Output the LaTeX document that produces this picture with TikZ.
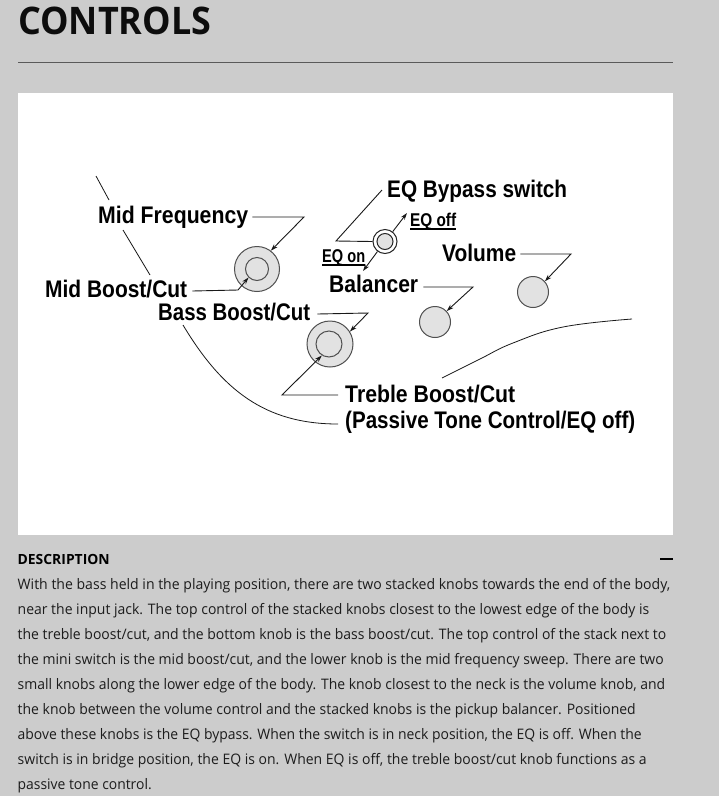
\documentclass[tikz,border=0pt]{standalone}
\usepackage{fontspec}
\setmainfont{Open Sans}
\newfontfamily\labfont{Liberation Sans}
\usetikzlibrary{arrows.meta}
\definecolor{pagebg}{HTML}{CCCCCC}
\definecolor{knobfill}{HTML}{E2E2E2}
\definecolor{knobline}{HTML}{505050}
\definecolor{bodytext}{HTML}{1C1C1C}
\definecolor{rulegray}{HTML}{5A5A5A}
\newcommand\fitw[2]{\resizebox{#1pt}{\height}{#2}}
\tikzset{
  lab/.style={inner sep=0pt, anchor=base west, font=\labfont\bfseries\fontsize{24}{24}\selectfont},
  sublab/.style={inner sep=0pt, anchor=base west, font=\labfont\bfseries\fontsize{18.5}{18.5}\selectfont},
  lead/.style={draw=black!90, line width=0.9pt},
  leadarrow/.style={lead, -{Stealth[length=7pt,width=4.5pt]}},
  knobring/.style={circle, draw=knobline, fill=knobfill, line width=1pt, inner sep=0pt},
  switchring/.style={circle, draw=black!85, fill=white, line width=1pt, inner sep=0pt, minimum size=24pt},
  switchcap/.style={circle, draw=black!85, fill=knobfill, line width=1pt, inner sep=0pt, minimum size=16pt},
  bodyline/.style={inner sep=0pt, anchor=base west, text=bodytext, font=\fontsize{14.5}{14.5}\selectfont},
  headline/.style={inner sep=0pt, anchor=base west, text=black, font=\bfseries\fontsize{14}{14}\selectfont},
}
\begin{document}
\begin{tikzpicture}[x=1pt,y=-1pt]
\useasboundingbox (0,0) rectangle (719,796);
\fill[pagebg] (0,0) rectangle (719,796);

% title and rule
\node[inner sep=0pt, anchor=base west, text=black!95, font=\bfseries\fontsize{38}{38}\selectfont] (title) at (18,34) {\fitw{193}{CONTROLS}};
\draw[rulegray, line width=1pt] (18,62) -- (673,62);

% white panel
\fill[white] (18,93) rectangle (673,535);

% body outline curves
\draw[lead, line width=0.8pt] (96,176) -- (109,200);
\draw[lead, line width=0.8pt] (123,230) -- (150,275);
\draw[lead, line width=0.8pt] (183,325) .. controls (222,390) and (265,424) .. (338,424);
\draw[lead, line width=0.8pt] plot[smooth, tension=0.7] coordinates {(442,378) (480,359) (513,343) (563,327) (632,319)};

% knobs
\node[knobring, minimum size=45pt] (midout) at (257,269) {};
\node[knobring, minimum size=23pt] (midin) at (257,269) {};
\node[knobring, minimum size=46pt] (bassout) at (330,344) {};
\node[knobring, minimum size=26pt] (bassin) at (329,344) {};
\node[knobring, minimum size=31pt] (bal) at (435,322) {};
\node[knobring, minimum size=31pt] (vol) at (533,292) {};
\node[switchring] (sw) at (385,241.5) {};
\node[switchcap] (swcap) at (385,241.5) {};

% labels
\node[lab] (mf) at (98,223) {\fitw{150}{Mid Frequency}};
\node[lab] (mb) at (45,297) {\fitw{142}{Mid Boost/Cut}};
\node[lab] (bb) at (158,320) {\fitw{152}{Bass Boost/Cut}};
\node[lab] (eqb) at (387,197) {\fitw{180}{EQ Bypass switch}};
\node[sublab] (eqoff) at (410,226) {\fitw{46}{EQ off}};
\node[sublab] (eqon) at (322,262) {\fitw{43}{EQ on}};
\node[lab] (balt) at (329,292) {\fitw{89}{Balancer}};
\node[lab] (volt) at (442,261) {\fitw{74}{Volume}};
\node[lab] (tr) at (345,402) {\fitw{170}{Treble Boost/Cut}};
\node[lab] (pt) at (345,428) {\fitw{290}{(Passive Tone Control/EQ off)}};

% underlines
\draw[line width=1.3pt] ([yshift=-3pt]eqoff.base west) -- ([yshift=-3pt]eqoff.base east);
\draw[line width=1.3pt] ([yshift=-3pt]eqon.base west) -- ([yshift=-3pt]eqon.base east);

% leader corners
\coordinate (mfc) at (304,217);
\coordinate (mbc) at (238,290);
\coordinate (bbc) at (368,313);
\coordinate (trc) at (282,395);
\coordinate (eqbc) at (336,241);
\coordinate (balc) at (473,287);
\coordinate (volc) at (571,254);
\coordinate (offtip) at (407,213);
\coordinate (ontip) at (363,271);

% leaders
\draw[leadarrow] ([xshift=4pt,yshift=6pt]mf.base east) -- (mfc) -- (midout.53);
\draw[leadarrow] ([xshift=5pt,yshift=6pt]mb.base east) -- (mbc) -- (midin.225);
\draw[leadarrow] ([xshift=7pt,yshift=6pt]bb.base east) -- (bbc) -- (bassout.32);
\draw[leadarrow] ([xshift=-7pt,yshift=7pt]tr.base west) -- (trc) -- (bassin.238);
\draw[lead] ([xshift=-5pt,yshift=7pt]eqb.base west) -- (eqbc) -- (sw.west);
\draw[leadarrow] (sw.52) -- (offtip);
\draw[leadarrow] (sw.233) -- (ontip);
\draw[leadarrow] ([xshift=5pt,yshift=5pt]balt.base east) -- (balc) -- (bal.43);
\draw[leadarrow] ([xshift=4pt,yshift=7pt]volt.base east) -- (volc) -- (vol.42);

% description
\node[headline] (deschead) at (17.5,564) {\fitw{92}{DESCRIPTION}};
\coordinate (minusl) at (660,559);
\coordinate (minusr) at (673,559);
\draw[line width=2pt, black] (minusl) -- (minusr);

\node[bodyline] (l1) at (17.5,589) {\fitw{652.5}{With the bass held in the playing position, there are two stacked knobs towards the end of the body,}};
\node[bodyline] (l2) at (17.5,614) {\fitw{631.5}{near the input jack. The top control of the stacked knobs closest to the lowest edge of the body is}};
\node[bodyline] (l3) at (17.5,639) {\fitw{648.5}{the treble boost/cut, and the bottom knob is the bass boost/cut. The top control of the stack next to}};
\node[bodyline] (l4) at (17.5,664) {\fitw{646}{the mini switch is the mid boost/cut, and the lower knob is the mid frequency sweep. There are two}};
\node[bodyline] (l5) at (17.5,689) {\fitw{647.5}{small knobs along the lower edge of the body. The knob closest to the neck is the volume knob, and}};
\node[bodyline] (l6) at (17.5,714) {\fitw{618}{the knob between the volume control and the stacked knobs is the pickup balancer. Positioned}};
\node[bodyline] (l7) at (17.5,739) {\fitw{624}{above these knobs is the EQ bypass. When the switch is in neck position, the EQ is off. When the}};
\node[bodyline] (l8) at (17.5,764) {\fitw{629}{switch is in bridge position, the EQ is on. When EQ is off, the treble boost/cut knob functions as a}};
\node[bodyline] (l9) at (17.5,789) {\fitw{134}{passive tone control.}};
\end{tikzpicture}
\end{document}
